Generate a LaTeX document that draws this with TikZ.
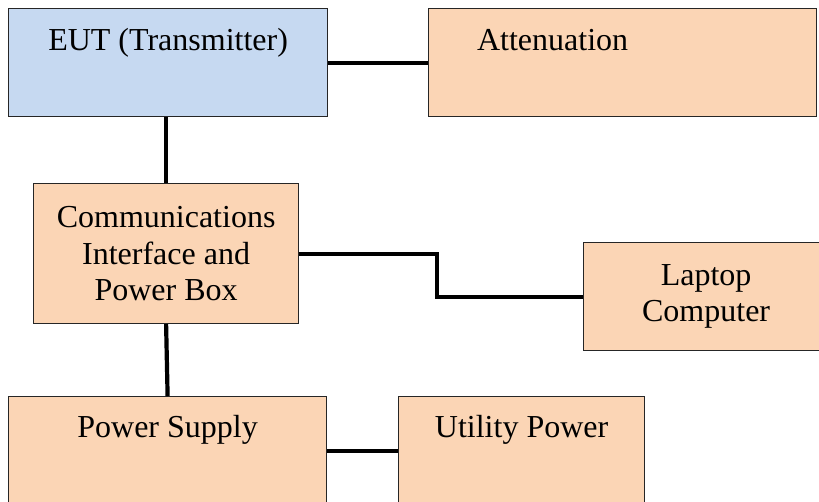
\documentclass[tikz,border=0pt]{standalone}
\usepackage{fontspec}
\setmainfont{Liberation Serif}
\definecolor{eutblue}{HTML}{C6D9F1}
\definecolor{peach}{HTML}{FBD5B5}
\begin{document}
\begin{tikzpicture}[x=1pt,y=-1pt,
  box/.style={draw=black!85, line width=1.2pt, inner sep=0pt, anchor=north west,
    font=\fontsize{32}{36.5}\selectfont, align=center, fill=peach},
  topbox/.style={box, text height=42pt, text depth=66pt},
  wire/.style={line width=4.2pt, black}]
\useasboundingbox (0,0) rectangle (819,501);
\node[topbox, fill=eutblue, minimum width=319pt, minimum height=108pt] (eut) at (8,8) {EUT (Transmitter)};
\node[topbox, minimum width=388pt, minimum height=108pt] (att) at (428,8) {Attenuation\hspace*{140pt}};
\node[box, minimum width=265pt, minimum height=140pt] (comm) at (33,183) {Communications\\Interface and\\Power Box};
\node[box, minimum width=245pt, minimum height=108pt] (laptop) at (583,242) {Laptop\\Computer};
\node[topbox, minimum width=318pt, minimum height=108pt, text height=41pt, text depth=67pt] (ps) at (8,396) {Power Supply};
\node[topbox, minimum width=246pt, minimum height=108pt, text height=41pt, text depth=67pt] (util) at (398,396) {Utility Power};
\draw[wire] (eut) -- (att);
\draw[wire] (comm.north) -- (comm.north |- eut.south);
\draw[wire] (comm.east) -- ++(138,0) |- (laptop.west);
\draw[wire] (comm.south) -- (ps.north);
\draw[wire] (ps) -- (util);
\end{tikzpicture}
\end{document}
